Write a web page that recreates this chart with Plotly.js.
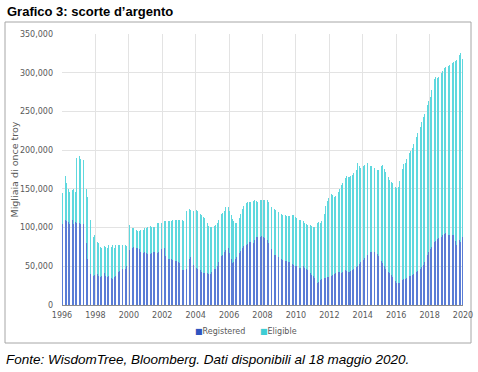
<!DOCTYPE html>
<html>
<head>
<meta charset="utf-8">
<script src="https://cdn.plot.ly/plotly-3.0.1.min.js"></script>
<style>
html,body{margin:0;padding:0;background:#fff;}
#chart{width:478px;height:372px;}
</style>
</head>
<body>
<div id="chart"></div>
<script>
// Monthly data, thousands of troy ounces, Jan 1996 .. Dec 2019 (one row per year)
var startYear = 1996;
var totalStocks = [
  145,160,166,157,150,146,144,148,150,146,190,194, // 1996
  192,188,198,187,170,150,140,127,110,93,88,90,    // 1997
  86,82,80,75,74,75,76,75,74,77,78,75,             // 1998
  77,74,78,76,78,77,79,78,77,78,76,102,            // 1999
  103,102,100,99,98,97,96,95,97,96,97,99,          // 2000
  100,101,103,102,101,101,101,104,106,106,105,106, // 2001
  108,108,108,107,108,108,109,110,109,110,110,110, // 2002
  110,109,110,108,106,121,123,124,123,122,121,121, // 2003
  123,122,121,118,116,114,112,110,106,102,101,101, // 2004
  103,102,103,106,110,114,117,119,122,127,128,126, // 2005
  121,116,111,108,106,106,110,113,118,124,128,131, // 2006
  132,133,133,133,134,134,135,134,133,134,135,135, // 2007
  135,136,138,136,133,130,127,125,124,123,122,120, // 2008
  119,118,116,115,116,115,115,115,114,116,116,114, // 2009
  112,111,110,110,109,108,106,104,103,103,103,102, // 2010
  101,101,103,106,107,106,108,113,118,128,134,138, // 2011
  142,143,142,140,141,143,146,150,155,158,161,164, // 2012
  166,165,165,166,168,170,172,175,183,180,177,178, // 2013
  179,181,182,183,182,180,179,178,177,176,175,174, // 2014
  176,180,181,176,172,168,165,161,159,157,155,153, // 2015
  151,153,160,172,176,182,184,188,192,196,199,203, // 2016
  208,213,217,222,226,230,236,243,247,252,258,264, // 2017
  269,278,288,292,295,293,295,297,299,302,306,307, // 2018
  308,309,310,311,313,314,315,317,320,323,325,318  // 2019
];
var registered = [
  105,108,110,109,107,105,108,110,104,107,106,107, // 1996
  106,105,104,104,95,80,60,45,40,37,38,39,         // 1997
  41,40,38,36,37,40,41,38,36,38,43,35,             // 1998
  33,36,38,41,43,44,45,46,45,46,50,58,             // 1999
  71,72,73,75,75,74,74,72,68,67,67,68,             // 2000
  67,66,65,66,67,68,69,68,67,69,71,72,             // 2001
  72,74,63,60,60,59,59,58,58,57,57,56,             // 2002
  54,48,45,45,45,46,47,60,62,58,52,49,             // 2003
  48,47,46,45,43,41,41,41,41,40,40,42,             // 2004
  45,46,47,50,56,60,63,65,68,71,72,73,             // 2005
  67,60,54,56,60,62,65,67,70,74,76,77,             // 2006
  78,79,81,82,80,80,84,88,88,87,88,89,             // 2007
  88,87,86,84,80,76,72,68,65,65,64,62,             // 2008
  60,59,58,58,57,57,56,55,54,53,52,51,             // 2009
  50,49,48,48,49,50,48,46,45,43,41,39,             // 2010
  37,35,30,28,30,32,33,34,35,35,36,36,             // 2011
  37,38,39,40,41,42,43,42,41,42,44,45,             // 2012
  44,43,43,44,45,46,47,49,51,53,55,56,             // 2013
  58,61,63,65,67,68,69,70,69,68,66,63,             // 2014
  60,57,54,50,47,45,43,41,39,36,33,31,             // 2015
  28,28,29,31,32,33,34,35,36,37,38,39,             // 2016
  40,41,42,44,46,47,49,52,56,61,65,68,             // 2017
  72,75,78,81,83,85,86,87,88,90,92,93,             // 2018
  92,91,91,92,91,90,83,78,76,84,82,88              // 2019
];
var seriesNames = ['Registered', 'Eligible'];
var yearTicks = [1996,1998,2000,2002,2004,2006,2008,2010,2012,2014,2016,2018,2020];
var yTicks = [0,50000,100000,150000,200000,250000,300000,350000];

// build month categories and derived arrays
var months = [], regVals = [], eligVals = [];
for (var i = 0; i < totalStocks.length; i++) {
  var y = startYear + Math.floor(i / 12), m = (i % 12) + 1;
  months.push(y + '-' + (m < 10 ? '0' : '') + m + '-15');
  regVals.push(registered[i] * 1000);
  eligVals.push((totalStocks[i] - registered[i]) * 1000);
}

var tickFont = {family: 'DejaVu Sans, sans-serif', size: 8, color: '#595959'};
var regColor = '#5a7dd6', eligColor = '#5fd8de';
var regKey = '#2f55c0', eligKey = '#3fcdd4';

var data = [
  {type: 'bar', x: months, y: regVals, name: seriesNames[0],
   marker: {color: regColor, line: {width: 0}}},
  {type: 'bar', x: months, y: eligVals, name: seriesNames[1],
   marker: {color: eligColor, line: {width: 0}}}
];

function px(xPix) { return (xPix - 62) / 401; }
function py(yPix) { return (305 - yPix) / 271; }

var layout = {
  width: 478, height: 372,
  margin: {l: 62, r: 15, t: 34, b: 67},
  paper_bgcolor: '#ffffff', plot_bgcolor: '#ffffff',
  barmode: 'stack', bargap: 0.42,
  showlegend: false,
  xaxis: {
    type: 'date',
    range: ['1996-01-01', '2020-01-01'],
    tickmode: 'array',
    tickvals: yearTicks.map(function (y) { return y + '-01-01'; }),
    ticktext: yearTicks.map(String),
    showgrid: true, gridcolor: '#e3e3e3', gridwidth: 1,
    showline: true, linecolor: '#8c8c8c', linewidth: 1,
    ticks: '', tickfont: tickFont, ticklabelstandoff: 2,
    zeroline: false, fixedrange: true
  },
  yaxis: {
    range: [0, 350000],
    tickmode: 'array', tickvals: yTicks,
    ticktext: yTicks.map(function (v) { return v.toLocaleString('en-US'); }),
    showgrid: true, gridcolor: '#e3e3e3', gridwidth: 1,
    showline: false, zeroline: false,
    ticks: '', tickfont: tickFont, ticklabelstandoff: 8, fixedrange: true
  },
  shapes: [
    {type: 'rect', xref: 'paper', yref: 'paper',
     x0: px(5), x1: px(471), y0: py(343), y1: py(22),
     line: {color: '#a6a6a6', width: 1}, fillcolor: 'rgba(0,0,0,0)', layer: 'below'}
  ],
  annotations: [
    {text: '<b>Grafico 3: scorte d’argento</b>', xref: 'paper', yref: 'paper',
     x: px(5), y: py(11), xanchor: 'left', yanchor: 'middle',
     showarrow: false, font: {family: 'Liberation Sans, Arial, sans-serif', size: 13, color: '#000'}},
    {text: 'Migliaia di once troy', xref: 'paper', yref: 'paper',
     x: px(14), y: 0.5, xanchor: 'center', yanchor: 'middle', textangle: -90,
     showarrow: false, font: {family: 'DejaVu Sans, sans-serif', size: 9.5, color: '#595959'}},
    {text: '<span style="color:' + regKey + '">■</span>' + seriesNames[0], xref: 'paper', yref: 'paper',
     x: px(193), y: py(331), xanchor: 'left', yanchor: 'middle',
     showarrow: false, font: {family: 'DejaVu Sans, sans-serif', size: 8, color: '#595959'}},
    {text: '<span style="color:' + eligKey + '">■</span>' + seriesNames[1], xref: 'paper', yref: 'paper',
     x: px(258), y: py(331), xanchor: 'left', yanchor: 'middle',
     showarrow: false, font: {family: 'DejaVu Sans, sans-serif', size: 8, color: '#595959'}},
    {text: '<i>Fonte: WisdomTree, Bloomberg. Dati disponibili al 18 maggio 2020.</i>', xref: 'paper', yref: 'paper',
     x: px(4), y: py(359), xanchor: 'left', yanchor: 'middle',
     showarrow: false, font: {family: 'Liberation Sans, Arial, sans-serif', size: 13.5, color: '#000'}}
  ]
};

Plotly.newPlot('chart', data, layout, {displayModeBar: false, staticPlot: true});
</script>
</body>
</html>
